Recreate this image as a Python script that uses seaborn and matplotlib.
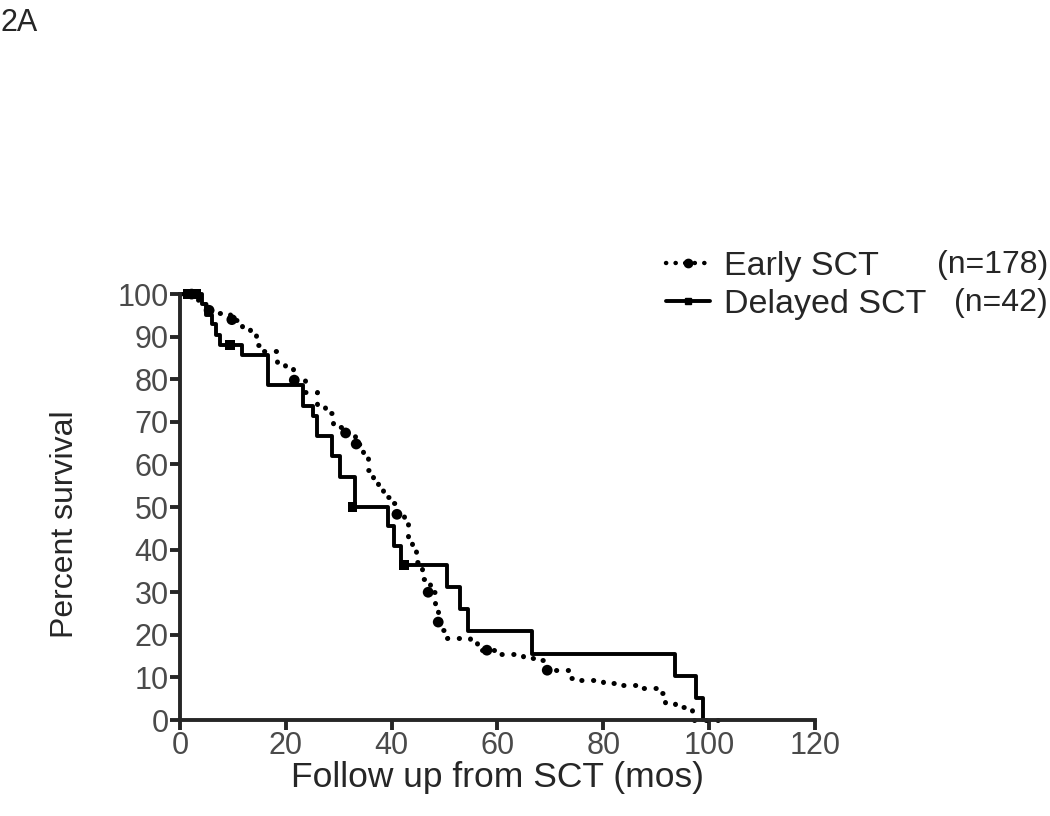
import matplotlib
matplotlib.use("Agg")
import matplotlib.pyplot as plt
import pandas as pd
import seaborn as sns
from matplotlib.lines import Line2D

# Kaplan-Meier curves (months, percent surviving)
early_t = [0, 3.4, 5.1, 7.2, 9.5, 11.7, 13.2, 14.4, 15.7, 18.3, 19.8, 21.4,
           23.6, 25.9, 27.4, 28.9, 31.2, 33.1, 34.6, 35.5, 36.5, 37.4, 38.4,
           39.7, 40.6, 42.3, 43.1, 43.9, 44.6, 45.7, 47.3, 48.2, 48.8, 49.1,
           50.5, 54.8, 56.1, 60.1, 64.8, 67.1, 69.4, 73.3, 75.6, 80.0, 82.6,
           86.6, 91.1, 91.7, 93.6, 96.8, 101.7]
early_s = [100, 97.7, 96.2, 95.5, 94.0, 91.8, 90.3, 88.0, 86.7, 83.8, 82.3,
           79.8, 76.9, 73.8, 72.0, 68.8, 67.4, 64.8, 62.8, 58.7, 56.8, 54.0,
           52.3, 50.9, 48.3, 46.0, 42.3, 39.7, 37.1, 33.1, 30.0, 26.5, 23.0,
           21.1, 19.2, 18.1, 16.4, 15.5, 14.6, 14.1, 11.7, 9.9, 9.4, 8.7, 8.2,
           7.5, 6.3, 4.0, 3.0, 0.0, 0.0]

delayed_t = [0, 4.2, 5.0, 6.0, 6.8, 7.6, 11.7, 16.6, 23.3, 25.1, 25.8, 28.7, 30.2,
             33.0, 39.3, 40.5, 41.8, 50.5, 52.9, 54.4, 66.5, 93.6, 97.6, 98.8]
delayed_s = [100, 97.6, 95.2, 92.9, 90.5, 88.1, 85.7, 78.6, 73.8, 71.4, 66.7, 61.9,
             57.1, 50.0, 45.5, 40.9, 36.4, 31.2, 26.0, 20.8, 15.6, 10.4, 5.2, 0.0]

# censored-patient marks
early_cens_t = [2.2, 5.5, 9.8, 21.6, 31.3, 33.3, 41.0, 46.9, 48.8, 58.0, 69.4]
early_cens_s = [100, 96.2, 94.0, 79.8, 67.4, 64.8, 48.3, 30.0, 23.0, 16.4, 11.7]
delayed_cens_t = [1.5, 3.0, 9.5, 32.6, 42.3]
delayed_cens_s = [100, 100, 88.1, 50.0, 36.4]

labels = ["Early SCT", "Delayed SCT"]
counts = ["(n=178)", "(n=42)"]

sns.set_style("ticks")
plt.rcParams["font.family"] = ["Liberation Sans", "DejaVu Sans"]

fig = plt.figure(figsize=(10.5, 8.16), dpi=100)
ax = fig.add_axes([0.1714, 0.1176, 0.6048, 0.522])

early = pd.DataFrame({"t": early_t, "s": early_s})
delayed = pd.DataFrame({"t": delayed_t, "s": delayed_s})

sns.lineplot(data=delayed, x="t", y="s", ax=ax, color="black", lw=2.8,
             drawstyle="steps-post", clip_on=False, sort=False)
sns.lineplot(data=early, x="t", y="s", ax=ax, color="black", lw=3.6,
             drawstyle="steps-post", clip_on=False, sort=False,
             linestyle=(0, (0.05, 2.3)), dash_capstyle="round")
sns.scatterplot(x=early_cens_t, y=early_cens_s, ax=ax, color="black", s=60,
                marker="o", edgecolor="none", clip_on=False)
sns.scatterplot(x=delayed_cens_t, y=delayed_cens_s, ax=ax, color="black", s=50,
                marker="s", edgecolor="none", clip_on=False)

ax.set_xlim(0, 120)
ax.set_ylim(0, 100)
ax.set_xticks(range(0, 121, 20))
ax.set_yticks(range(0, 101, 10))
sns.despine(ax=ax)
for sp in ("left", "bottom"):
    ax.spines[sp].set_linewidth(2.8)
ax.tick_params(axis="both", direction="out", length=7, width=2.8,
               labelsize=22, labelcolor="#4a4a4a", pad=1)
ax.set_xlabel("Follow up from SCT (mos)", fontsize=25.5, labelpad=0)
ax.set_ylabel("Percent survival", fontsize=23)
ax.yaxis.set_label_coords(-0.158, 0.46)

handles = [
    Line2D([0], [0], color="black", lw=3.2, linestyle=(0, (0.05, 2.1)),
           dash_capstyle="round", marker="o", markersize=6),
    Line2D([0], [0], color="black", lw=2.8, marker="s", markersize=5),
]
ax.legend(handles, labels, loc="upper left", bbox_to_anchor=(0.634, 0.693),
          bbox_transform=fig.transFigure, frameon=False, fontsize=24.5,
          handlelength=1.3, handletextpad=0.4, labelspacing=0.22,
          borderaxespad=0, borderpad=0)
fig.text(0.998, 0.675, counts[0], fontsize=23, ha="right", va="center")
fig.text(0.998, 0.629, counts[1], fontsize=23, ha="right", va="center")
fig.text(0.0, 0.99, "2A", fontsize=22, ha="left", va="top")

fig.savefig("out.png", dpi=100)
